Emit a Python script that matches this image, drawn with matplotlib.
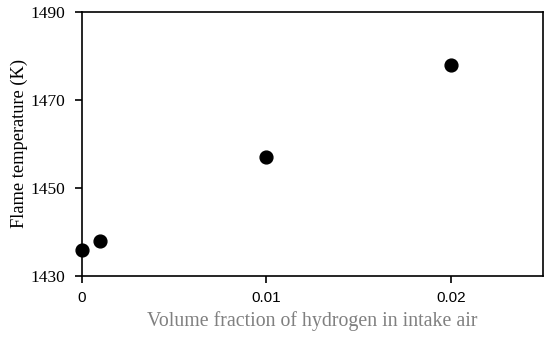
import matplotlib.pyplot as plt

# hydrogen volume fraction vs flame temperature
h2_fraction = [0.0, 0.001, 0.01, 0.02]
flame_temp = [1436, 1438, 1457, 1478]

x_ticks = [0, 0.01, 0.02]
x_ticklabels = ["0", "0.01", "0.02"]
y_ticks = [1430, 1450, 1470, 1490]

fig = plt.figure(figsize=(5.5, 3.37), dpi=100)
ax = fig.add_axes([82 / 550, 1 - 276 / 337, 461 / 550, 264 / 337])

ax.scatter(h2_fraction, flame_temp, s=85, c='black', zorder=3, clip_on=False)

ax.set_xlim(0, 0.025)
ax.set_ylim(1430, 1490)
ax.set_xticks(x_ticks)
ax.set_xticklabels(x_ticklabels, fontfamily='Liberation Sans', fontsize=11)
ax.set_yticks(y_ticks)
ax.set_yticklabels([str(v) for v in y_ticks], fontfamily='Liberation Serif', fontsize=12.5)

ax.tick_params(axis='both', direction='out', length=5, width=1.2, colors='black')
ax.tick_params(axis='x', pad=6)
ax.tick_params(axis='y', pad=7)
for sp in ax.spines.values():
    sp.set_linewidth(1.2)

ax.set_xlabel("Volume fraction of hydrogen in intake air", fontfamily='Liberation Serif',
              fontsize=14.3, color='#808080', labelpad=4)
ax.set_ylabel("Flame temperature (K)", fontfamily='Liberation Serif', fontsize=13.2, labelpad=2)

fig.savefig("out.png", dpi=100)
